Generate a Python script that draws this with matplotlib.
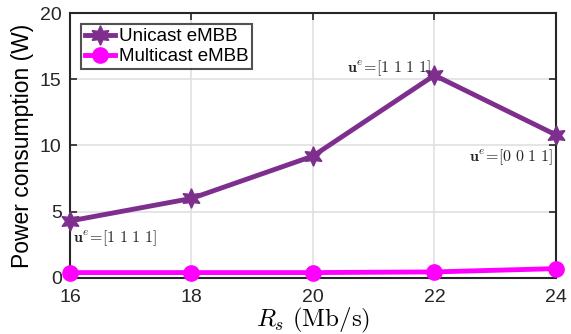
import matplotlib
matplotlib.use('Agg')
import matplotlib.pyplot as plt

rates = [16, 18, 20, 22, 24]
unicast = [4.3, 6.0, 9.2, 15.3, 10.8]
multicast = [0.4, 0.4, 0.4, 0.45, 0.7]

plt.rcParams['font.family'] = ['Liberation Sans', 'DejaVu Sans']
plt.rcParams['mathtext.fontset'] = 'cm'

fig = plt.figure(figsize=(5.71, 3.34), dpi=100)
ax = fig.add_axes([0.1226, 0.168, 0.851, 0.793])

ax.plot(rates, unicast, color='#7E2F8E', lw=3.5, marker=(6, 1, 0), ms=14,
        label='Unicast eMBB', clip_on=False, zorder=3)
ax.plot(rates, multicast, color='#FF00FF', lw=3.5, marker='o', ms=11,
        label='Multicast eMBB', clip_on=False, zorder=3)

ax.set_xlim(16, 24)
ax.set_ylim(0, 20)
ax.set_xticks([16, 18, 20, 22, 24])
ax.set_yticks([0, 5, 10, 15, 20])
ax.tick_params(direction='in', labelsize=14, length=5, width=1.2, colors='#262626',
               top=True, right=True)
ax.tick_params(axis='x', pad=8)
ax.tick_params(axis='y', pad=6)
for s in ax.spines.values():
    s.set_linewidth(1.5)
    s.set_color('#262626')
ax.grid(True, color='#e0e0e0', lw=1.2)
ax.set_axisbelow(True)

ax.set_xlabel(r'$R_s\ \mathrm{(Mb/s)}$', fontsize=18, labelpad=0)
ax.set_ylabel('Power consumption (W)', fontsize=16.5, labelpad=4)

ann = dict(fontsize=11.5, color='#262626')
ax.text(16.05, 3.0, r'$\mathbf{u}^e\!=\![1\ 1\ 1\ 1]$', ha='left', va='center', **ann)
ax.text(21.95, 15.8, r'$\mathbf{u}^e\!=\![1\ 1\ 1\ 1]$', ha='right', va='center', **ann)
ax.text(23.95, 9.1, r'$\mathbf{u}^e\!=\![0\ 0\ 1\ 1]$', ha='right', va='center', **ann)

leg = ax.legend(loc='upper left', fontsize=13.5, frameon=True, fancybox=False,
                edgecolor='#262626', handlelength=1.6, handletextpad=0.2,
                borderpad=0.2, labelspacing=0.15, borderaxespad=0.6)
leg.get_frame().set_linewidth(1.5)

fig.savefig('out.png')
